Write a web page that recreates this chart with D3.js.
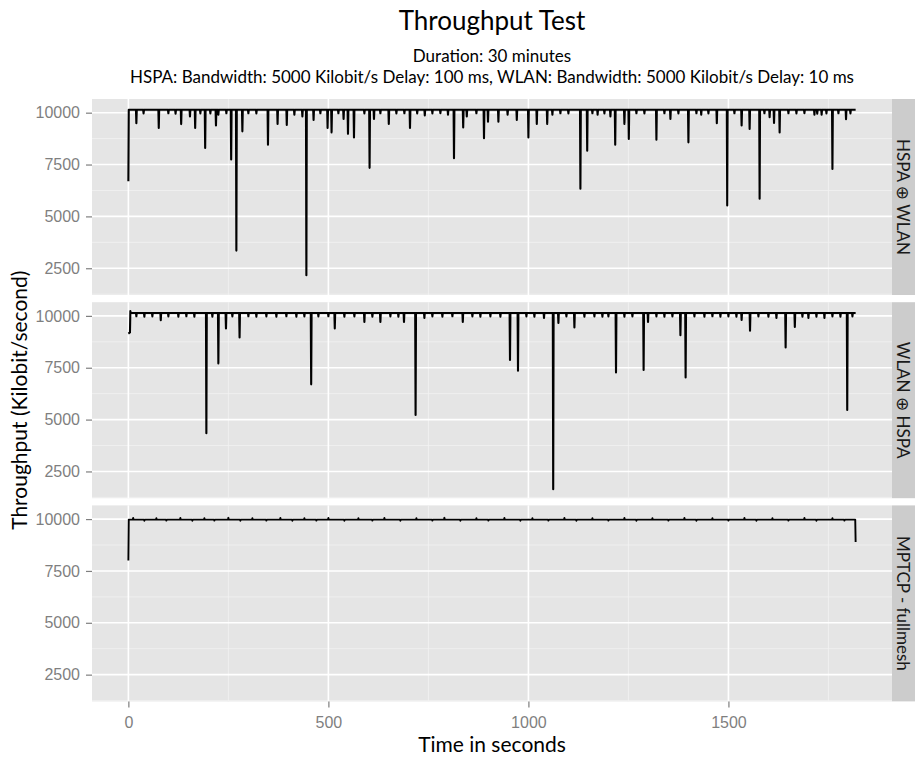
<!DOCTYPE html>
<html>
<head>
<meta charset="utf-8">
<script src="https://cdn.jsdelivr.net/npm/d3@7"></script>
<style>
  body { margin: 0; background: #fff; }
</style>
</head>
<body>
<svg id="chart" width="915" height="760"></svg>
<script>
// Throughput test: three facets, one throughput line each (Kilobit/s per second)

const titleText = "Throughput Test";
const subtitleLines = [
  "Duration: 30 minutes",
  "HSPA: Bandwidth: 5000 Kilobit/s Delay: 100 ms, WLAN: Bandwidth: 5000 Kilobit/s Delay: 10 ms"
];
const facetLabels = ["HSPA \u2295 WLAN", "WLAN \u2295 HSPA", "MPTCP - fullmesh"];
const xTicks = [0, 500, 1000, 1500];
const yTicks = [2500, 5000, 7500, 10000];

// level the line sits on between dips
const baseLevels = [10140, 10140, 9975];

// first and last samples of every run
const startPoints = [
  [[0, 6700], [1, 10140]],
  [[0, 9150], [4, 9200], [5, 10230], [6, 10140]],
  [[0, 8000], [1, 9975]]
];
const endPoints = [
  [[1818, 10140]],
  [[1818, 10140]],
  [[1817, 9975], [1818, 8900]]
];

// [second, throughput] of the dips
const hspaWlanDips = [
  [20, 9490], [38, 9960], [76, 9260], [100, 9970], [118, 9950], [132, 9450],
  [154, 9820], [167, 9260], [180, 9960], [192, 8300], [205, 9960], [219, 9380],
  [225, 9900], [245, 9970], [257, 7740], [270, 3350], [285, 9100], [300, 9970],
  [320, 9960], [349, 8460], [373, 9460], [396, 9410], [415, 9900], [435, 9820],
  [445, 2160], [463, 9650], [480, 9970], [498, 9260], [508, 9050], [525, 9970],
  [538, 9700], [549, 8980], [564, 8810], [590, 9960], [603, 7340], [614, 9700],
  [630, 9970], [651, 9460], [670, 9960], [690, 9970], [704, 9260], [722, 9960],
  [741, 9870], [760, 9960], [780, 9980], [799, 9900], [814, 7800], [837, 9290],
  [846, 9820], [870, 9970], [889, 8770], [899, 9570], [925, 9570], [948, 9900],
  [971, 9650], [1000, 8810], [1021, 9460], [1047, 9460], [1060, 9900], [1080, 9970],
  [1100, 9960], [1130, 6330], [1147, 8170], [1160, 9970], [1173, 9900], [1190, 9960],
  [1205, 9820], [1217, 8460], [1240, 9460], [1251, 8730], [1270, 9970], [1290, 9960],
  [1320, 8700], [1340, 9970], [1355, 9700], [1375, 9960], [1400, 8570], [1420, 9970],
  [1432, 9900], [1450, 9960], [1471, 9490], [1497, 5530], [1515, 9970], [1533, 9380],
  [1553, 9220], [1578, 5850], [1590, 9970], [1603, 9780], [1614, 9510], [1628, 9050],
  [1650, 9970], [1670, 9960], [1690, 9980], [1715, 9900], [1722, 9950], [1733, 9900],
  [1745, 9960], [1760, 7290], [1775, 9970], [1794, 9680], [1805, 9960]
];

const wlanHspaDips = [
  [20, 9980], [40, 9960], [60, 9970], [81, 9790], [100, 9970], [125, 9960],
  [145, 9980], [165, 9960], [195, 4340], [210, 9960], [225, 7710], [244, 9390],
  [260, 9970], [278, 8960], [300, 9980], [320, 9960], [345, 9970], [370, 9960],
  [395, 9980], [420, 9960], [440, 9970], [457, 6700], [475, 9970], [500, 9980],
  [516, 9390], [540, 9960], [565, 9970], [590, 9710], [610, 9960], [630, 9710],
  [655, 9970], [675, 9960], [689, 9710], [718, 5220], [740, 9900], [760, 9970],
  [785, 9960], [810, 9980], [836, 9710], [860, 9970], [880, 9960], [905, 9970],
  [930, 9960], [954, 7870], [974, 7360], [995, 9970], [1015, 9960], [1039, 9900],
  [1062, 1640], [1075, 9660], [1095, 9970], [1115, 9440], [1140, 9960], [1165, 9970],
  [1185, 9960], [1200, 9970], [1219, 7270], [1240, 9960], [1260, 9970], [1288, 7390],
  [1299, 9710], [1320, 9970], [1340, 9960], [1360, 9970], [1380, 9070], [1393, 7030],
  [1415, 9970], [1440, 9960], [1460, 9980], [1480, 9960], [1500, 9970], [1520, 9960],
  [1533, 9800], [1554, 9280], [1575, 9970], [1600, 9960], [1620, 9900], [1643, 8480],
  [1666, 9470], [1685, 9960], [1700, 9900], [1720, 9960], [1740, 9900], [1760, 9970],
  [1780, 9960], [1797, 5460], [1810, 9970]
];

const mptcpDips = [
  [12, 10050], [40, 9920], [70, 10040], [95, 9930], [130, 10050], [160, 9920],
  [190, 10040], [215, 9930], [250, 10060], [280, 9920], [310, 10040], [345, 9930],
  [380, 10050], [410, 9920], [440, 10040], [470, 9930], [500, 10050], [540, 9920],
  [575, 10040], [610, 9930], [640, 10050], [680, 9920], [720, 10040], [760, 9930],
  [790, 10060], [830, 9920], [870, 10040], [900, 9930], [940, 10050], [980, 9920],
  [1010, 10040], [1050, 9930], [1090, 10050], [1120, 9920], [1160, 10040], [1200, 9930],
  [1240, 10050], [1270, 9920], [1310, 10040], [1350, 9930], [1390, 10050], [1420, 9920],
  [1460, 10040], [1500, 9930], [1540, 10050], [1570, 9920], [1610, 10040], [1650, 9930],
  [1690, 10050], [1720, 9920], [1760, 10040], [1790, 9930]
];

const dipLists = [hspaWlanDips, wlanHspaDips, mptcpDips];

// one series of [t, v] samples per facet
const series = dipLists.map((dips, i) => {
  const base = baseLevels[i];
  const pts = [...startPoints[i]];
  dips.forEach(([t, v]) => {
    pts.push([t - 1, base], [t, v], [t + 1, base]);
  });
  pts.push(...endPoints[i]);
  return pts;
});

const allPts = series.flat();

// layout
const panelLeft = 92, panelRight = 892, stripW = 23;
const panelTop = 99, panelH = 196, panelGap = 7.2;

function expand(ext, f) {
  const d = (ext[1] - ext[0]) * f;
  return [ext[0] - d, ext[1] + d];
}

const x = d3.scaleLinear()
  .domain(expand(d3.extent(allPts, (d) => d[0]), 0.05))
  .range([panelLeft, panelRight]);

const yDomain = expand(d3.extent(allPts, (d) => d[1]), 0.05);

const svg = d3.select("#chart");
const sansFont = "Lato, 'DejaVu Sans', sans-serif";
const tickFont = "'Liberation Sans', Arial, sans-serif";
const panelCx = (panelLeft + panelRight) / 2;
const fmt = d3.format("d");

// titles
svg.append("text")
  .attr("x", panelCx).attr("y", 30)
  .attr("text-anchor", "middle")
  .attr("font-family", sansFont).attr("font-size", 26)
  .attr("fill", "#000")
  .text(titleText);

subtitleLines.forEach((line, i) => {
  svg.append("text")
    .attr("x", panelCx).attr("y", 62 + i * 21)
    .attr("text-anchor", "middle")
    .attr("font-family", sansFont).attr("font-size", 17)
    .attr("fill", "#000")
    .text(line);
});

const minorX = [250, 750, 1250, 1750];

series.forEach((pts, i) => {
  const top = panelTop + i * (panelH + panelGap);
  const y = d3.scaleLinear().domain(yDomain).range([top + panelH, top]);
  const minorY = [1250, 3750, 6250, 8750].filter((v) => v >= yDomain[0]);

  const g = svg.append("g");

  g.append("rect")
    .attr("x", panelLeft).attr("y", top)
    .attr("width", panelRight - panelLeft).attr("height", panelH)
    .attr("fill", "#E5E5E5");

  // minor grid
  g.selectAll(".mx").data(minorX).join("line")
    .attr("x1", (d) => x(d)).attr("x2", (d) => x(d))
    .attr("y1", top).attr("y2", top + panelH)
    .attr("stroke", "#F2F2F2").attr("stroke-width", 0.8);
  g.selectAll(".my").data(minorY).join("line")
    .attr("x1", panelLeft).attr("x2", panelRight)
    .attr("y1", (d) => y(d)).attr("y2", (d) => y(d))
    .attr("stroke", "#F2F2F2").attr("stroke-width", 0.8);

  // major grid
  g.selectAll(".gx").data(xTicks).join("line")
    .attr("x1", (d) => x(d)).attr("x2", (d) => x(d))
    .attr("y1", top).attr("y2", top + panelH)
    .attr("stroke", "#fff").attr("stroke-width", 1.6);
  g.selectAll(".gy").data(yTicks).join("line")
    .attr("x1", panelLeft).attr("x2", panelRight)
    .attr("y1", (d) => y(d)).attr("y2", (d) => y(d))
    .attr("stroke", "#fff").attr("stroke-width", 1.6);

  // the throughput line
  g.append("path")
    .datum(pts)
    .attr("fill", "none")
    .attr("stroke", "#000")
    .attr("stroke-width", i === 2 ? 1.9 : 2.1)
    .attr("stroke-linejoin", "round")
    .attr("d", d3.line().x((d) => x(d[0])).y((d) => y(d[1])));

  // y axis
  const yAxis = g.append("g")
    .attr("transform", `translate(${panelLeft},0)`)
    .call(d3.axisLeft(y).tickValues(yTicks).tickFormat(fmt).tickSize(6).tickPadding(6));
  yAxis.select(".domain").remove();
  yAxis.selectAll(".tick line").attr("stroke", "#7F7F7F").attr("stroke-width", 1.2);
  yAxis.selectAll(".tick text")
    .attr("font-family", tickFont).attr("font-size", 16)
    .attr("fill", "#7F7F7F");

  // strip
  g.append("rect")
    .attr("x", panelRight).attr("y", top)
    .attr("width", stripW).attr("height", panelH)
    .attr("fill", "#CCCCCC");
  g.append("text")
    .attr("transform", `translate(${panelRight + stripW / 2 - 1},${top + panelH / 2}) rotate(90)`)
    .attr("text-anchor", "middle")
    .attr("dy", "0.35em")
    .attr("font-family", sansFont).attr("font-size", 17)
    .attr("fill", "#1a1a1a")
    .text(facetLabels[i]);

  if (i === series.length - 1) {
    const xAxis = g.append("g")
      .attr("transform", `translate(0,${top + panelH})`)
      .call(d3.axisBottom(x).tickValues(xTicks).tickFormat(fmt).tickSize(6).tickPadding(9));
    xAxis.select(".domain").remove();
    xAxis.selectAll(".tick line").attr("stroke", "#7F7F7F").attr("stroke-width", 1.2);
    xAxis.selectAll(".tick text")
      .attr("font-family", tickFont).attr("font-size", 16)
      .attr("fill", "#7F7F7F");
  }
});

const panelsBottom = panelTop + 3 * panelH + 2 * panelGap;

// axis titles
svg.append("text")
  .attr("x", panelCx).attr("y", 752)
  .attr("text-anchor", "middle")
  .attr("font-family", sansFont).attr("font-size", 21)
  .attr("fill", "#000")
  .text("Time in seconds");

svg.append("text")
  .attr("transform", `translate(27,${(panelTop + panelsBottom) / 2}) rotate(-90)`)
  .attr("text-anchor", "middle")
  .attr("font-family", sansFont).attr("font-size", 21)
  .attr("fill", "#000")
  .text("Throughput (Kilobit/second)");
</script>
</body>
</html>
